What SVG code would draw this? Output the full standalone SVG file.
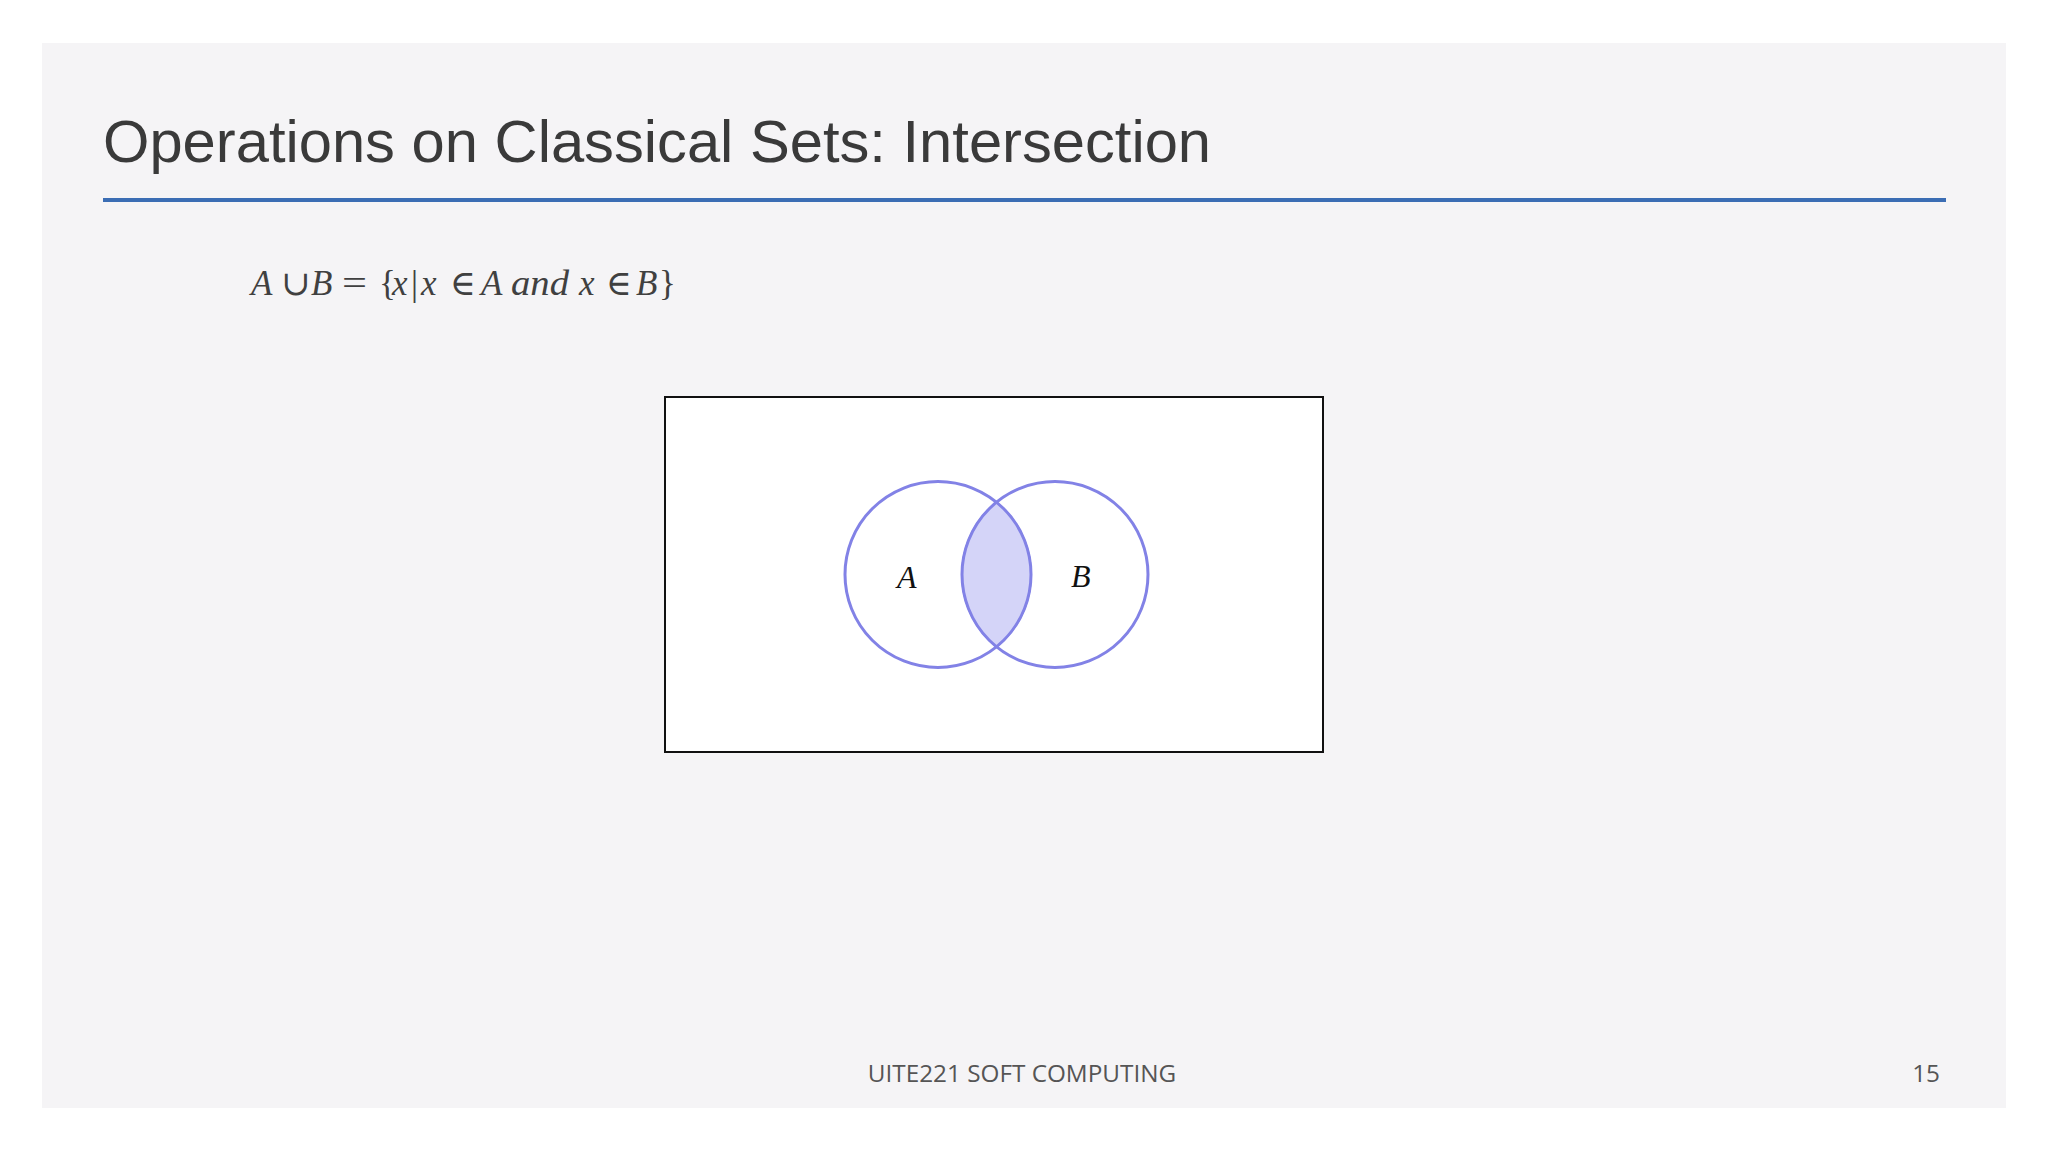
<svg xmlns="http://www.w3.org/2000/svg" width="2048" height="1152" viewBox="0 0 2048 1152">
<style>
.title{font-family:"Liberation Sans",Arial,sans-serif;font-size:59.7px;fill:#3a3a3a}
.math{font-family:"Liberation Serif","DejaVu Serif",serif;font-size:35px;fill:#404040}
.it{font-style:italic}
.lbl{font-family:"Liberation Serif",serif;font-style:italic;font-size:32px;fill:#111}
.foot{font-family:"Open Sans","Noto Sans",sans-serif;font-size:24.3px;fill:#555}
.set{fill:none;stroke:#8282e6;stroke-width:3}
</style>
<rect x="0" y="0" width="2048" height="1152" fill="#ffffff"/>
<rect x="42" y="43" width="1964" height="1065" fill="#f5f4f6"/>
<text class="title" x="103" y="162">Operations on Classical Sets: Intersection</text>
<rect x="103" y="198" width="1843" height="4" fill="#3b6db4"/>
<text class="math" y="295"><tspan class="it" x="251">A</tspan><tspan x="281">∪</tspan><tspan class="it" x="311">B</tspan><tspan x="342" textLength="25" lengthAdjust="spacingAndGlyphs">=</tspan><tspan x="379">{</tspan><tspan class="it" x="392">x</tspan><tspan x="411">|</tspan><tspan class="it" x="421">x</tspan><tspan x="450">∈</tspan><tspan class="it" x="481">A</tspan><tspan class="it" x="511" textLength="58" lengthAdjust="spacingAndGlyphs">and</tspan><tspan class="it" x="579">x</tspan><tspan x="606">∈</tspan><tspan class="it" x="636">B</tspan><tspan x="659">}</tspan></text>
<g id="universe">
<rect x="665" y="397" width="658" height="355" fill="#ffffff" stroke="#111" stroke-width="2"/>
</g>
<g id="intersection">
<path d="M996.5 502 A93 93 0 0 1 996.5 647 A93 93 0 0 1 996.5 502 Z" fill="#d4d4f8" stroke="#8282e6" stroke-width="1.5"/>
</g>
<g id="setA">
<circle class="set" cx="938" cy="574.5" r="93"/>
<text class="lbl" x="897" y="588">A</text>
</g>
<g id="setB">
<circle class="set" cx="1055" cy="574.5" r="93"/>
<text class="lbl" x="1071" y="587">B</text>
</g>
<text class="foot" x="1022" y="1082" text-anchor="middle">UITE221 SOFT COMPUTING</text>
<text class="foot" x="1940" y="1082" text-anchor="end">15</text>
</svg>
